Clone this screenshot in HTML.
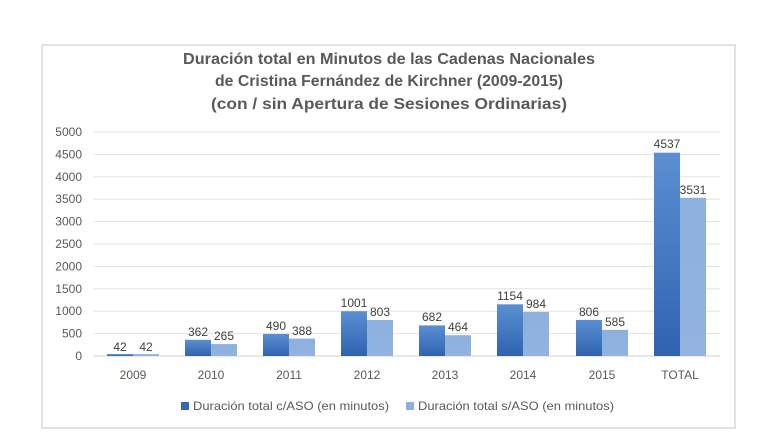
<!DOCTYPE html>
<html><head><meta charset="utf-8"><style>html,body{margin:0;padding:0;background:#fff}svg{display:block}</style></head>
<body>
<svg width="770" height="433" viewBox="0 0 770 433" xmlns="http://www.w3.org/2000/svg" font-family="Liberation Sans, sans-serif">
<defs>
<linearGradient id="d" x1="0" y1="0" x2="0" y2="1"><stop offset="0" stop-color="#5b8fd2"/><stop offset="1" stop-color="#2f63b0"/></linearGradient>
<linearGradient id="l" x1="0" y1="0" x2="0" y2="1"><stop offset="0" stop-color="#8db0dd"/><stop offset="1" stop-color="#92b3de"/></linearGradient>
</defs>
<rect x="42" y="45" width="693" height="383" fill="#fff" stroke="#d9d9d9" stroke-width="1.5"/>
<g fill="#595959" font-weight="bold" font-size="16" text-anchor="middle">
<text x="389" y="64" textLength="412" lengthAdjust="spacingAndGlyphs">Duración total en Minutos de las Cadenas Nacionales</text>
<text x="389" y="86" textLength="348" lengthAdjust="spacingAndGlyphs">de Cristina Fernández de Kirchner (2009-2015)</text>
<text x="389" y="109" textLength="356" lengthAdjust="spacingAndGlyphs">(con / sin Apertura de Sesiones Ordinarias)</text>
</g>
<g stroke="#e3e3e3" stroke-width="1">
<line x1="93" x2="720" y1="132" y2="132"/><line x1="93" x2="720" y1="154.4" y2="154.4"/><line x1="93" x2="720" y1="176.8" y2="176.8"/><line x1="93" x2="720" y1="199.2" y2="199.2"/><line x1="93" x2="720" y1="221.6" y2="221.6"/><line x1="93" x2="720" y1="244" y2="244"/><line x1="93" x2="720" y1="266.4" y2="266.4"/><line x1="93" x2="720" y1="288.8" y2="288.8"/><line x1="93" x2="720" y1="311.2" y2="311.2"/><line x1="93" x2="720" y1="333.6" y2="333.6"/>
</g>
<line x1="93" x2="720" y1="356" y2="356" stroke="#d0d0d0"/>
<g fill="#595959" font-size="12" text-anchor="end">
<text x="82" y="136">5000</text><text x="82" y="158.4">4500</text><text x="82" y="180.8">4000</text><text x="82" y="203.2">3500</text><text x="82" y="225.6">3000</text><text x="82" y="248">2500</text><text x="82" y="270.4">2000</text><text x="82" y="292.8">1500</text><text x="82" y="315.2">1000</text><text x="82" y="337.6">500</text><text x="82" y="360">0</text>
</g>
<g id="bars"></g>
<g fill="#404040" font-size="12" text-anchor="middle">
<!-- bars: center c, dark c-26..c, light c..c+26; scale 0.0448 -->
<rect x="107" y="354.1" width="26" height="1.9" fill="url(#d)"/><rect x="133" y="354.1" width="26" height="1.9" fill="url(#l)"/>
<text x="120" y="351">42</text><text x="146" y="351">42</text>
<rect x="185" y="339.8" width="26" height="16.2" fill="url(#d)"/><rect x="211" y="344.1" width="26" height="11.9" fill="url(#l)"/>
<text x="198" y="336">362</text><text x="224" y="340">265</text>
<rect x="263" y="334" width="26" height="22" fill="url(#d)"/><rect x="289" y="338.6" width="26" height="17.4" fill="url(#l)"/>
<text x="276" y="330">490</text><text x="302" y="335">388</text>
<rect x="341" y="311.2" width="26" height="44.8" fill="url(#d)"/><rect x="367" y="320" width="26" height="36" fill="url(#l)"/>
<text x="354" y="307">1001</text><text x="380" y="316">803</text>
<rect x="419" y="325.4" width="26" height="30.6" fill="url(#d)"/><rect x="445" y="335.2" width="26" height="20.8" fill="url(#l)"/>
<text x="432" y="321">682</text><text x="458" y="331">464</text>
<rect x="497" y="304.3" width="26" height="51.7" fill="url(#d)"/><rect x="523" y="311.9" width="26" height="44.1" fill="url(#l)"/>
<text x="510" y="300">1154</text><text x="536" y="308">984</text>
<rect x="576" y="319.9" width="26" height="36.1" fill="url(#d)"/><rect x="602" y="329.8" width="26" height="26.2" fill="url(#l)"/>
<text x="589" y="316">806</text><text x="615" y="326">585</text>
<rect x="654" y="152.7" width="26" height="203.3" fill="url(#d)"/><rect x="680" y="197.8" width="26" height="158.2" fill="url(#l)"/>
<text x="667" y="148">4537</text><text x="693" y="194">3531</text>
</g>
<g fill="#595959" font-size="12" text-anchor="middle">
<text x="133" y="379">2009</text><text x="211" y="379">2010</text><text x="289" y="379">2011</text><text x="367" y="379">2012</text><text x="445" y="379">2013</text><text x="523" y="379">2014</text><text x="602" y="379">2015</text><text x="680" y="379">TOTAL</text>
</g>
<rect x="181" y="402" width="8" height="8" fill="#3467b2"/>
<text x="193" y="410" font-size="12" fill="#595959" textLength="196" lengthAdjust="spacingAndGlyphs">Duración total c/ASO (en minutos)</text>
<rect x="406" y="402" width="8" height="8" fill="#8fb1dc"/>
<text x="418" y="410" font-size="12" fill="#595959" textLength="196" lengthAdjust="spacingAndGlyphs">Duración total s/ASO (en minutos)</text>
</svg>
</body></html>
